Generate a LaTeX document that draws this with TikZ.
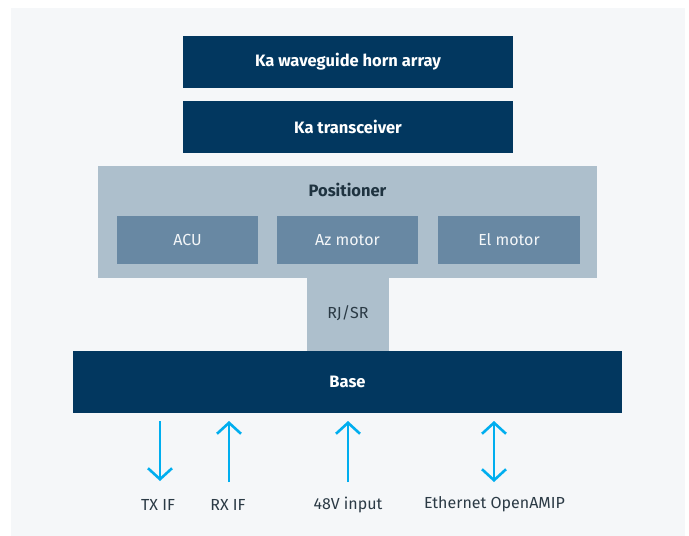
\documentclass[tikz,border=0pt]{standalone}
\usepackage{fontspec}
\setmainfont{Fira Sans}
\usetikzlibrary{arrows.meta, positioning}
\definecolor{panelgray}{HTML}{F5F7F9}
\definecolor{navy}{HTML}{02375F}
\definecolor{posgray}{HTML}{ADBFCC}
\definecolor{motorblue}{HTML}{6888A3}
\definecolor{linkcyan}{HTML}{00AEEF}
\definecolor{labeltext}{HTML}{2B3A45}
\definecolor{titletext}{HTML}{1F3340}

\begin{document}
\begin{tikzpicture}[x=1pt, y=-1pt,
    darkbox/.style={fill=navy, text=white, font=\fontsize{16.5}{18}\selectfont\bfseries, inner sep=0pt},
    motorbox/.style={fill=motorblue, text=white!92!motorblue, font=\fontsize{16}{18}\selectfont,
      minimum height=48pt, inner sep=0pt},
    sig/.style={draw=linkcyan, line width=2.6pt,
      arrows={-Straight Barb[length=11pt, width=24pt]}},
    sigboth/.style={sig, arrows={Straight Barb[length=11pt, width=24pt]-Straight Barb[length=11pt, width=24pt]}},
    lbl/.style={text=labeltext, font=\fontsize{16}{18}\selectfont, inner sep=0pt}]
  \useasboundingbox (0,0) rectangle (689,536);
  \fill[panelgray] (11,8) rectangle (685,536);

  % top stack
  \node[darkbox, minimum width=330pt, minimum height=52pt] (horn) at (348,62) {Ka waveguide horn array};
  \node[darkbox, minimum width=330pt, minimum height=52pt] (trx) at (348,127) {Ka transceiver};

  % positioner
  \node[fill=posgray, minimum width=499pt, minimum height=112pt, inner sep=0pt] (pos) at (347.5,222) {};
  \node[text=titletext, font=\fontsize{16.5}{18}\selectfont\bfseries, inner sep=0pt] (postitle) at (347.5,190) {Positioner};
  \node[motorbox, minimum width=141pt] (acu) at (187.5,240) {ACU};
  \node[motorbox, minimum width=141pt] (az) at (347.5,240) {Az motor};
  \node[motorbox, minimum width=142pt] (el) at (509,240) {El motor};

  % slip ring stem
  \node[fill=posgray, minimum width=82pt, minimum height=74pt, inner sep=0pt] (stem) at (348,314.5) {};
  \node[lbl] (rjsr) at (348,313) {RJ/SR};

  % base
  \node[darkbox, minimum width=549pt, minimum height=62pt] (base) at (347.5,382) {Base};

  % interfaces
  \node[lbl] (txif) at (158,504.5) {TX IF};
  \node[lbl] (rxif) at (228,504.5) {RX IF};
  \node[lbl] (pwr) at (348,504.5) {48V input};
  \node[lbl] (eth) at (494.5,504.5) {Ethernet OpenAMIP};

  \coordinate (tx-a) at (160,421);  \coordinate (tx-b) at (160,481);
  \coordinate (rx-a) at (229,421);  \coordinate (rx-b) at (229,482);
  \coordinate (pw-a) at (348,421);  \coordinate (pw-b) at (348,482);
  \coordinate (et-a) at (494,421);  \coordinate (et-b) at (494,482);

  \draw[sig] (tx-a) -- (tx-b);
  \draw[sig] (rx-b) -- (rx-a);
  \draw[sig] (pw-b) -- (pw-a);
  \draw[sigboth] (et-a) -- (et-b);
\end{tikzpicture}
\end{document}
